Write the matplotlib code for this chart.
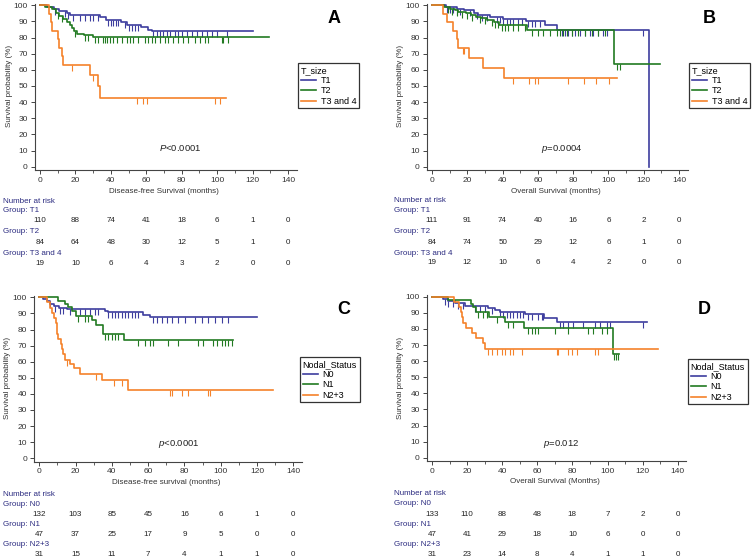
import matplotlib
matplotlib.use("Agg")
import matplotlib.pyplot as plt
import matplotlib.transforms as mtransforms
from matplotlib.lines import Line2D
import numpy as np

plt.rcParams['font.family'] = ['Liberation Sans', 'DejaVu Sans']
plt.rcParams['mathtext.fontset'] = 'custom'
plt.rcParams['mathtext.rm'] = 'Liberation Sans'
plt.rcParams['mathtext.it'] = 'Liberation Sans:italic'

BLUE = '#3d3d9e'
GREEN = '#217a21'
ORANGE = '#f5822a'
NAVY = '#2b2b80'
W, H = 753, 558

risk_times = [0, 20, 40, 60, 80, 100, 120, 140]

# ---- Panel A: DFS by T size ----
a_t1_t = [4, 8, 11, 15, 17, 34, 37, 46, 49, 57, 61, 63]
a_t1_s = [99, 98, 96.5, 95, 94, 92.5, 91, 89.5, 88, 86.5, 85, 84]
a_t1_end = 120
a_t1_cens = [8.5, 14, 16, 18.8, 22.6, 25.4, 28.2, 30, 33, 38.6, 40, 41.4, 42.7, 44.2, 48, 50, 51.8,
             53.6, 55.5, 64, 66, 67.8, 69.6, 71.5, 73.4, 76.2, 78, 80, 82.8, 85.6, 88.5, 91.3, 94,
             97, 99.8, 105.4]
a_t2_t = [3, 7, 9, 11, 13, 15, 17, 18, 19, 21, 25, 30]
a_t2_s = [99, 97.5, 95.5, 93.5, 91.5, 89.5, 88, 86, 84, 82.5, 81.5, 80.5]
a_t2_end = 129
a_t2_cens = [10.4, 12.2, 19.8, 25.4, 27.3, 31, 33, 35.8, 36.7, 37.6, 39.5, 41.4, 43.3, 46.1, 48.9,
             50.8, 52.7, 55.5, 59.3, 61.2, 63.1, 65, 67.8, 70.6, 72.5, 75.3, 78, 81, 83.8, 87.6,
             90.3, 93.2, 95, 102.6, 103.5, 106.4]
a_t3_t = [5, 6, 6.5, 10, 10.5, 12.5, 13, 28, 33, 34]
a_t3_s = [94.7, 89.5, 84.2, 78.9, 73.7, 68.4, 63.2, 56.8, 49.7, 42.6]
a_t3_end = 105
a_t3_cens = [18, 30, 54.6, 58.4, 60.2, 98.9, 101.6]
a_risk = [[110, 88, 74, 41, 18, 6, 1, 0], [84, 64, 48, 30, 12, 5, 1, 0], [19, 10, 6, 4, 3, 2, 0, 0]]

# ---- Panel B: OS by T size ----
b_t1_t = [8, 14, 18, 24, 26, 33, 40, 53, 64, 71, 122.8]
b_t1_s = [99, 98, 97, 95.5, 94, 92.5, 91.5, 90.5, 88, 84.7, 0]
b_t1_end = 122.8
b_t1_cens = [8.3, 10.2, 12.1, 14, 15.9, 21.5, 25.3, 28.2, 31, 36.7, 38.5, 40.4, 42.3, 44.2, 46.1,
             48.9, 50.8, 54.6, 56.5, 58.4, 61.2, 73.5, 75.4, 77.3, 79.2, 81, 83.9, 86.7, 89.6,
             91.5, 94.3, 97.1, 99, 119.8]
b_t2_t = [7, 10, 13, 15, 19, 22, 25, 28, 31, 35, 38, 54, 103]
b_t2_s = [99, 98, 97, 96, 95, 94, 93, 92, 90.8, 89.5, 88, 84.7, 63.5]
b_t2_end = 129
b_t2_cens = [9.3, 11.1, 14, 16.8, 19.6, 22.5, 27.2, 30, 33.8, 35.7, 37.6, 39.5, 41.4, 43.3, 46.1,
             48.9, 52.7, 56.5, 60.3, 63.1, 66.9, 70.7, 72.6, 74.5, 76.3, 79.2, 83, 86.7, 90.5,
             94.3, 98.1, 104.7, 106.6]
b_t3_t = [6, 8.5, 12, 14, 15, 21, 29, 41]
b_t3_s = [94.7, 89.5, 84.2, 78.9, 73.7, 67.4, 61.3, 55.1]
b_t3_end = 104.7
b_t3_cens = [17.4, 18.4, 45.8, 55.2, 58.6, 60.3, 76.9, 86.4, 93, 100.5]
b_risk = [[111, 91, 74, 40, 16, 6, 2, 0], [84, 74, 50, 29, 12, 6, 1, 0], [19, 12, 10, 6, 4, 2, 0, 0]]

# ---- Panel C: DFS by nodal status ----
c_n0_t = [2, 4, 6, 8, 11, 15, 36, 38, 57, 61]
c_n0_s = [99, 97.7, 96, 94.5, 93.5, 92.5, 91.5, 90.7, 89.3, 87.7]
c_n0_end = 120
c_n0_cens = [5.9, 8.7, 11.4, 13.3, 16.9, 22.4, 25.2, 27.9, 30.7, 32.5, 38.1, 39.9, 41.7, 43.6,
             45.4, 47.2, 49.1, 50.9, 52.7, 54.6, 62.9, 64.7, 67.5, 70.2, 73, 76.6, 80.3, 85.8,
             89.5, 93.2, 96.9, 100.5, 104.2]
c_n1_t = [10.5, 14, 16, 18, 20.5, 29, 31, 35, 46.5]
c_n1_s = [97.9, 95.8, 93.7, 91.6, 88.3, 85.8, 82.9, 77.2, 73.5]
c_n1_end = 107
c_n1_cens = [21.5, 25.2, 27, 36.2, 38.1, 39.9, 41.7, 43.6, 54.6, 58.3, 61, 62.9, 71.1, 76.6,
             87.7, 90.4, 95.9, 97.8, 100.5, 102.4, 104.2, 106]
c_n2_t = [4, 6, 7, 8, 9, 9.5, 10, 10.5, 12, 12.5, 13, 14, 17, 19, 22.5, 34.5, 49]
c_n2_s = [96.8, 93.5, 90.3, 87.1, 83.9, 80.6, 77.4, 74.2, 71, 67.7, 64.5, 61.3, 58.7, 56.2,
          52.5, 48.6, 42.2]
c_n2_end = 129
c_n2_cens = [15, 31.5, 41, 45.5, 72, 73, 78.6, 82.2, 93.2, 94.1]
c_risk = [[132, 103, 85, 45, 16, 6, 1, 0], [47, 37, 25, 17, 9, 5, 0, 0], [31, 15, 11, 7, 4, 1, 1, 0]]

# ---- Panel D: OS by nodal status ----
d_n0_t = [6.5, 9, 13, 19, 32, 36, 39, 53, 64, 71]
d_n0_s = [98.8, 97.3, 95.8, 94.3, 93, 91.8, 90.7, 89, 87, 84.5]
d_n0_end = 122.5
d_n0_cens = [7.4, 9.3, 12.2, 15, 17.9, 24.5, 27.4, 30.2, 34, 38.7, 40.6, 42.5, 44.4, 46.3, 48.2,
             50.1, 52, 54.9, 56.8, 60.6, 62.5, 63.4, 72.9, 74.8, 77.7, 80.5, 86.2, 92.9, 95.7,
             99.5, 101.4, 120.4]
d_n1_t = [9, 22.5, 23.5, 25, 32.5, 41.5, 52.5, 103]
d_n1_s = [97.9, 95.7, 93.6, 90.4, 87.2, 84, 80.4, 64.3]
d_n1_end = 106.5
d_n1_cens = [26.4, 29.2, 31.1, 36.8, 43.5, 46.3, 54.9, 56.8, 58.7, 60.6, 70.1, 77.7, 89.1, 91.9,
             96.7, 99.5, 103.8, 104.8, 105.7]
d_n2_t = [12.7, 15.5, 16.3, 17, 17.8, 19.3, 23, 25, 28.8, 30.4]
d_n2_s = [96.8, 93.5, 90.3, 87.1, 83.9, 80.6, 77.4, 74.2, 71, 67.7]
d_n2_end = 129
d_n2_cens = [32.1, 34, 36.8, 39.7, 41.6, 44.4, 46.3, 51.1, 71, 72, 77.7, 79.6, 82.4, 92.9, 94.8]
d_risk = [[133, 110, 88, 48, 18, 7, 2, 0], [47, 41, 29, 18, 10, 6, 0, 0], [31, 23, 14, 8, 4, 1, 1, 0]]

t_labels = ['T1', 'T2', 'T3 and 4']
n_labels = ['N0', 'N1', 'N2+3']

fig = plt.figure(figsize=(W / 100, H / 100), dpi=100)


def ftext(xpx, ypx, s, **kw):
    return fig.text(xpx / W, 1 - ypx / H, s, **kw)


def make_panel(x0, x140, y100, y0):
    sx = (x140 - x0) / 140
    sy = (y0 - y100) / 100
    left, right = x0 - 3 * sx, x0 + 145 * sx
    top, bottom = y100 - 1 * sy, y0 + 2 * sy
    ax = fig.add_axes([left / W, 1 - bottom / H, (right - left) / W, (bottom - top) / H])
    ax.set_xlim(-3, 145)
    ax.set_ylim(-2, 101)
    for s in ['top', 'right']:
        ax.spines[s].set_visible(False)
    for s in ['left', 'bottom']:
        ax.spines[s].set_color('#444444')
        ax.spines[s].set_linewidth(0.8)
    ax.set_xticks(range(0, 141, 20))
    ax.set_xticks(range(0, 141, 10), minor=True)
    ax.set_yticks(range(0, 101, 10))
    ax.tick_params(which='major', length=3, width=0.7, color='#444444', labelsize=6,
                   labelcolor='#333333', pad=2)
    ax.tick_params(which='minor', length=2, width=0.6, color='#444444')
    return ax


def km(ax, ev_t, ev_s, end, cens, color):
    x = [0] + ev_t + [end]
    y = [100] + ev_s + [ev_s[-1]]
    ax.step(x, y, where='post', color=color, lw=1.2)
    idx = np.searchsorted(ev_t, cens, side='right')
    levels = np.r_[100, ev_s][idx]
    ax.plot(cens, levels, ls='none', marker=3, ms=4.2, mew=0.8, color=color)


def legend(ax, title, labels, lx, ly):
    handles = [Line2D([], [], color=c, lw=1.2) for c in (BLUE, GREEN, ORANGE)]
    leg = ax.legend(handles, labels, title=title, loc='upper left',
                    bbox_to_anchor=(lx / W, 1 - ly / H), bbox_transform=fig.transFigure,
                    frameon=True, fancybox=False, edgecolor='black', fontsize=6.5,
                    title_fontsize=6.5, alignment='left', handlelength=1.7, borderpad=0.3,
                    labelspacing=0.15, handletextpad=0.5, borderaxespad=0)
    leg.get_frame().set_linewidth(0.9)


def risk_table(ax, xl, rows, groups, ys):
    trans = mtransforms.blended_transform_factory(ax.transData, fig.transFigure)
    ftext(xl, ys[0], 'Number at risk', fontsize=5.8, color=NAVY, va='center')
    for i, (g, row) in enumerate(zip(groups, rows)):
        ftext(xl, ys[1 + 2 * i], 'Group: ' + g, fontsize=5.8, color=NAVY, va='center')
        for t, n in zip(risk_times, row):
            ax.text(t, 1 - ys[2 + 2 * i] / H, str(n), transform=trans, fontsize=5.8,
                    color='#222222', ha='center', va='center', clip_on=False)


# Panel A
ax = make_panel(40, 288, 5.3, 166.7)
km(ax, a_t1_t, a_t1_s, a_t1_end, a_t1_cens, BLUE)
km(ax, a_t2_t, a_t2_s, a_t2_end, a_t2_cens, GREEN)
km(ax, a_t3_t, a_t3_s, a_t3_end, a_t3_cens, ORANGE)
legend(ax, 'T_size', t_labels, 298, 63)
ftext(180, 148.3, r'$\mathit{P}$<0.0001', fontsize=6.8, ha='center', va='center', color='#222222')
ftext(334, 18.3, 'A', fontsize=13, fontweight='bold', ha='center', va='center')
ftext(164, 191.7, 'Disease-free Survival (months)', fontsize=5.8, ha='center', va='center', color='#333333')
ftext(10, 86, 'Survival probability (%)', fontsize=5.8, rotation=90, ha='center', va='center', color='#333333')
risk_table(ax, 2.7, a_risk, t_labels, [201.7, 210.5, 221, 231.7, 242.3, 253.3, 263.3])

# Panel B
ax = make_panel(432, 679, 5.3, 166.7)
km(ax, b_t1_t, b_t1_s, b_t1_end, b_t1_cens, BLUE)
km(ax, b_t2_t, b_t2_s, b_t2_end, b_t2_cens, GREEN)
km(ax, b_t3_t, b_t3_s, b_t3_end, b_t3_cens, ORANGE)
legend(ax, 'T_size', t_labels, 689, 63)
ftext(561.7, 149, r'$\mathit{p}$=0.0004', fontsize=6.8, ha='center', va='center', color='#222222')
ftext(709.3, 18.3, 'B', fontsize=13, fontweight='bold', ha='center', va='center')
ftext(555.5, 191, 'Overall Survival (months)', fontsize=5.8, ha='center', va='center', color='#333333')
ftext(401, 86, 'Survival probability (%)', fontsize=5.8, rotation=90, ha='center', va='center', color='#333333')
risk_table(ax, 394.3, b_risk, t_labels, [201, 210.5, 221, 231.7, 242.3, 253.3, 262.3])

# Panel C
ax = make_panel(39.3, 293.3, 297.3, 458.3)
km(ax, c_n0_t, c_n0_s, c_n0_end, c_n0_cens, BLUE)
km(ax, c_n1_t, c_n1_s, c_n1_end, c_n1_cens, GREEN)
km(ax, c_n2_t, c_n2_s, c_n2_end, c_n2_cens, ORANGE)
legend(ax, 'Nodal_Status', n_labels, 300, 357)
ftext(179.3, 444.3, r'$\mathit{p}$<0.0001', fontsize=6.8, ha='center', va='center', color='#222222')
ftext(343.3, 309.3, 'C', fontsize=13, fontweight='bold', ha='center', va='center')
ftext(166, 482.3, 'Disease-free survival (months)', fontsize=5.8, ha='center', va='center', color='#333333')
ftext(7.3, 378, 'Survival probability (%)', fontsize=5.8, rotation=90, ha='center', va='center', color='#333333')
risk_table(ax, 2.7, c_risk, n_labels, [494, 504.3, 514.3, 524.3, 534.3, 545, 554.3])

# Panel D
ax = make_panel(432, 677.7, 296.7, 457.7)
km(ax, d_n0_t, d_n0_s, d_n0_end, d_n0_cens, BLUE)
km(ax, d_n1_t, d_n1_s, d_n1_end, d_n1_cens, GREEN)
km(ax, d_n2_t, d_n2_s, d_n2_end, d_n2_cens, ORANGE)
legend(ax, 'Nodal_Status', n_labels, 688, 359)
ftext(561.7, 444.3, r'$\mathit{p}$=0.012', fontsize=6.8, ha='center', va='center', color='#222222')
ftext(704.3, 309.3, 'D', fontsize=13, fontweight='bold', ha='center', va='center')
ftext(555, 481.7, 'Overall Survival (Months)', fontsize=5.8, ha='center', va='center', color='#333333')
ftext(401, 378, 'Survival probability (%)', fontsize=5.8, rotation=90, ha='center', va='center', color='#333333')
risk_table(ax, 394.3, d_risk, n_labels, [493.3, 503.3, 514, 524.3, 534.3, 544.3, 554.3])

fig.savefig('out.png', dpi=100)
